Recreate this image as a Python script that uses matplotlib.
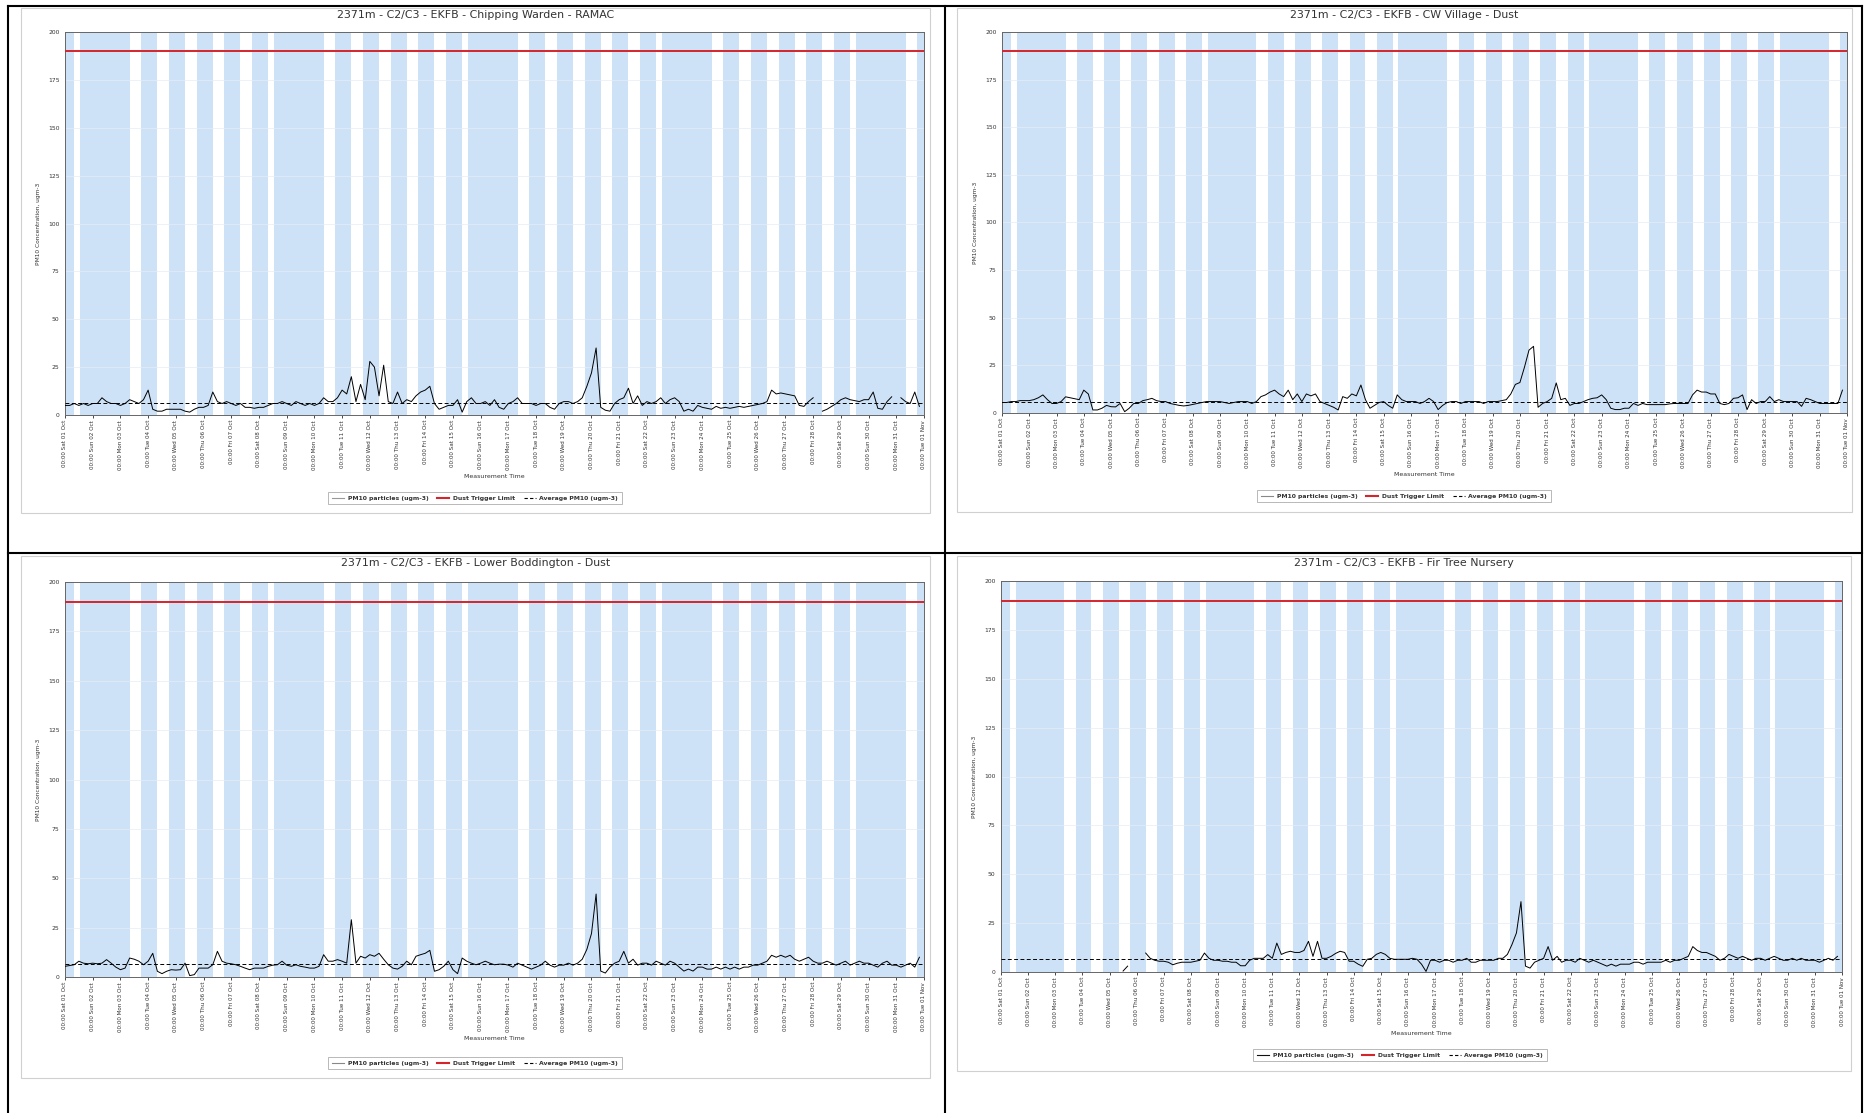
import numpy as np
import pandas as pd
import matplotlib
matplotlib.use('Agg')
import matplotlib.pyplot as plt
from matplotlib.lines import Line2D
from matplotlib.patches import Rectangle

W, H = 1866, 1113  # output size in pixels (dpi 100)

# --- data ---------------------------------------------------------------
START = '2016-10-01'
N_DAYS = 31
STEPS_PER_DAY = 6          # values read every 4 hours
WORK_START, WORK_END, SAT_END = 8, 18, 13

TITLES = ['2371m - C2/C3 - EKFB - Chipping Warden - RAMAC',
          '2371m - C2/C3 - EKFB - CW Village - Dust',
          '2371m - C2/C3 - EKFB - Lower Boddington - Dust',
          '2371m - C2/C3 - EKFB - Fir Tree Nursery']
TRIGGER_LIMIT = 190
AVERAGES = [6.3, 6.0, 6.6, 6.5]
nan = np.nan

PM10_CHIPPING_WARDEN = [
    5, 5, 6, 5, 6, 5,
    6, 6, 9, 7, 6, 6,
    5, 6, 8, 7, 6, 8,
    13, 3, 2, 2, 3, 3,
    3, 3, 2, 1.5, 3, 4,
    4, 5, 12, 7, 6, 7,
    6, 5, 6, 4, 4, 3.5,
    4, 4, 5, 6, 6, 7,
    6, 5, 7, 6, 5, 6,
    5, 6, 9, 7, 7, 9,
    13, 11, 20, 7, 16, 8,
    28, 25, 10, 26, 7, 6,
    12, 6, 8, 7, 10, 12,
    13, 15, 6, 3, 4, 5,
    5, 8, 1.5, 7, 9, 6,
    6, 7, 5, 8, 4, 3,
    6, 7, 9, 6, 6, 6,
    5, 6, 6, 4, 3, 6,
    7, 7, 6, 7, 9, 15,
    22, 35, 4, 2.5, 2, 6,
    8, 9, 14, 6, 10, 5,
    7, 6, 7, 9, 6, 8,
    9, 7, 2, 3, 2, 5,
    4, 3.5, 3, 4.5, 3.5, 4,
    3.5, 4, 4.5, 4, 4.5, 5,
    5.5, 6, 7, 13, 11, 11.5,
    11, 10.5, 10, 5, 4.5, 7,
    9, nan, 2, 3, 4.5, 6,
    8, 9, 8, 7.5, 7, 8,
    8, 12, 3.5, 3, 7, 9.5,
    nan, 9, 7, 6, 12, 4.5,
]

PM10_CW_VILLAGE = [
    5.5, 5.5, 6, 6, 6.5, 6.5,
    6.5, 7, 8, 9.5, 7, 5,
    5, 6, 8.5, 8, 7.5, 7,
    12, 10, 1.6, 1.6, 2.5, 4,
    3.3, 3.2, 5, 0.7, 2.5, 5,
    5, 6.5, 7, 7.7, 6.5, 6,
    6, 5, 4.5, 4, 3.7, 4,
    4.5, 5, 5.5, 6, 6, 6,
    6, 5.5, 5, 5.5, 6, 6,
    6, 5, 6, 8.6, 9.5, 11,
    12, 10, 8.6, 12, 7, 10,
    6, 10, 9, 10, 6, 5,
    4, 3, 1.6, 8.6, 7.7, 10,
    9, 14.7, 7, 2.5, 4, 5.5,
    6, 4, 2.5, 9.5, 7, 6,
    6, 6, 5, 6, 7.7, 6,
    1.8, 4, 5.5, 6, 6, 5,
    6, 6, 6, 6, 5, 6,
    6, 6, 6.5, 7, 10, 15,
    16, 24, 33, 35, 3, 5,
    6, 7.7, 15.8, 7, 7.7, 4,
    5, 5, 6, 7, 7.7, 8,
    9.5, 7, 2.5, 1.8, 1.8, 2.5,
    2.5, 5, 4, 5, 4.4, 4.4,
    4.4, 4.4, 4.4, 4.8, 5, 5,
    5, 5, 9.5, 12, 11, 11,
    10, 10, 5, 4.4, 5, 7.7,
    8, 9.5, 1.8, 7, 5, 6,
    6, 8.6, 6, 7, 6, 6,
    6, 6, 3.5, 7.7, 7, 6,
    5, 5, 5, 5, 5, 12,
]

PM10_LOWER_BODDINGTON = [
    5.4, 5.8, 6.2, 8, 7, 6.7,
    7, 6.7, 7, 8.8, 7, 5,
    3.7, 4.5, 9.6, 9, 8, 6.2,
    8, 12, 2.9, 1.7, 2.9, 3.7,
    3.5, 3.7, 7, 0.7, 1.2, 4.5,
    4.5, 4.5, 6.2, 13, 8, 7,
    6.7, 6.2, 5.4, 4.5, 3.7, 4.5,
    4.5, 4.5, 5.4, 6, 6.2, 8,
    6, 5.4, 6.2, 5.4, 5, 4.5,
    4.5, 5.4, 11.3, 8, 8, 8.8,
    8, 7, 29, 7, 10.5, 9.6,
    11.3, 10.5, 12, 9, 6.2, 4.5,
    4, 5.4, 8, 6.2, 10.5, 11.3,
    12, 13.5, 2.9, 3.7, 5.4, 8,
    3.7, 1.7, 9.6, 8, 7, 6.2,
    7, 8, 7, 6.2, 6.5, 6.5,
    6, 5, 7, 6, 5, 4,
    5, 6, 8, 6, 5, 6,
    6, 7, 6, 7, 9, 14,
    22, 42, 3, 2, 5, 7,
    8, 13, 7, 9, 6, 7,
    7, 6, 8, 7, 6, 8,
    7, 5, 3, 4, 3, 5,
    5, 4, 4, 5, 4, 5,
    4, 5, 4, 5, 5, 6,
    6, 7, 8, 11, 10, 11,
    10, 11, 9, 8, 9, 10,
    8, 7, 7, 8, 7, 6,
    7, 8, 6, 7, 8, 7,
    7, 6, 5, 7, 8, 6,
    6, 5, 6, 7, 5, 10,
]

PM10_FIR_TREE_NURSERY = [
    nan, nan, nan, nan, nan, nan,
    nan, nan, nan, nan, nan, nan,
    nan, nan, nan, nan, nan, nan,
    nan, nan, nan, nan, nan, nan,
    nan, nan, nan, 0.5, 3, nan,
    nan, nan, 9.7, 7, 6, 5.5,
    5.5, 5, 3.7, 4.5, 5, 5,
    5, 5.5, 6, 9.7, 7, 6,
    6, 5.5, 5.5, 5, 5, 3.2,
    3.2, 6, 7, 7, 7, 8.9,
    7, 14.8, 9, 10, 10.6, 10,
    10, 11, 15.7, 8, 15.7, 7,
    7, 8, 9.5, 10.6, 10, 5.5,
    5.5, 4, 2.9, 6.5, 7, 9,
    10, 9, 7, 6.5, 6.5, 6.5,
    6.5, 7, 6.5, 4, 0.3, 6,
    6, 5, 6, 6, 5, 6,
    6, 7, 5, 5, 6, 6,
    6, 6, 7, 7, 9, 14,
    20, 36, 3, 2, 5, 6,
    7, 13, 6, 8, 5, 6,
    6, 5, 7, 6, 5, 6,
    5, 4, 3, 4, 3, 4,
    4, 4, 5, 5, 4, 5,
    5, 5, 5, 6, 5, 6,
    6, 7, 8, 13, 11, 10,
    10, 9, 8, 6, 7, 9,
    8, 7, 8, 7, 6, 7,
    7, 6, 7, 8, 7, 6,
    6, 7, 6, 7, 6, 6,
    6, 5, 6, 7, 6, 8,
]

SERIES = [PM10_CHIPPING_WARDEN, PM10_CW_VILLAGE,
          PM10_LOWER_BODDINGTON, PM10_FIR_TREE_NURSERY]
LEGEND_LABELS = ['PM10 particles (ugm-3)', 'Dust Trigger Limit',
                 'Average PM10 (ugm-3)']
Y_LABEL = 'PM10 Concentration, ugm-3'
X_LABEL = 'Measurement Time'

# --- layout (pixel boxes: left, top, right, bottom) ---------------------
PLOT_BOXES = [(65, 32, 924, 415), (1002, 32, 1847, 413),
              (65, 582, 924, 977), (1001, 581, 1842, 972)]
FRAME_BOXES = [(21, 8, 930, 513), (957, 8, 1852, 512),
               (21, 556, 930, 1078), (957, 556, 1851, 1071)]
LEGEND_CENTRES = [(475, 498), (1404, 496), (475, 1063), (1400, 1055)]
PM_LEGEND_COLORS = ['#999999', '#888888', '#888888', '#111111']

BLUE = '#cde1f7'
RED = '#d4252c'


def fx(px):
    return px / W


def fy(py):
    return 1 - py / H


def off_hours_runs(days):
    """ Return (start, end) in day units of non-working hours """
    mask = np.zeros(len(days) * 24, dtype=bool)
    for i, d in enumerate(days):
        hrs = np.arange(24)
        if d.weekday() == 6:
            off = np.ones(24, dtype=bool)
        elif d.weekday() == 5:
            off = (hrs < WORK_START) | (hrs >= SAT_END)
        else:
            off = (hrs < WORK_START) | (hrs >= WORK_END)
        mask[i * 24:(i + 1) * 24] = off
    runs = []
    start = None
    for h, m in enumerate(mask):
        if m and start is None:
            start = h
        elif not m and start is not None:
            runs.append((start / 24, h / 24))
            start = None
    if start is not None:
        runs.append((start / 24, len(mask) / 24))
    return runs


days = pd.date_range(START, periods=N_DAYS + 1, freq='D')
tick_labels = [d.strftime('%H:%M %a %d %b') for d in days]
runs = off_hours_runs(days[:-1])
t = np.arange(N_DAYS * STEPS_PER_DAY) / STEPS_PER_DAY

fig = plt.figure(figsize=(W / 100, H / 100), dpi=100)
fig.patch.set_facecolor('white')

for k in range(4):
    l, tp, r, b = PLOT_BOXES[k]
    ax = fig.add_axes([fx(l), fy(b), (r - l) / W, (b - tp) / H])

    # chart image frame
    fl, ft, fr, fb = FRAME_BOXES[k]
    fig.add_artist(Rectangle((fx(fl), fy(fb)), (fr - fl) / W, (fb - ft) / H,
                             transform=fig.transFigure, fill=False,
                             edgecolor='#d0d0d0', lw=0.8, zorder=0))

    for s, e in runs:
        ax.axvspan(s, e, color=BLUE, lw=0, zorder=0)
    for yv in range(25, 200, 25):
        ax.axhline(yv, color='#e6edf5', lw=0.5, zorder=0.5)

    ax.axhline(TRIGGER_LIMIT, color=RED, lw=1.4, zorder=3)
    ax.axhline(AVERAGES[k], color='black', lw=0.7, ls=(0, (4, 2.5)), zorder=3)
    ax.plot(t, np.array(SERIES[k], dtype=float), color='black', lw=0.7,
            zorder=4)

    ax.set_xlim(0, N_DAYS)
    ax.set_ylim(0, 200)
    ax.set_yticks(range(0, 201, 25))
    ax.set_xticks(np.arange(N_DAYS + 1))
    ax.set_xticklabels(tick_labels, rotation=90, fontsize=4.1, color='#333333')
    ax.tick_params(axis='y', labelsize=4.3, length=0, pad=4,
                   labelcolor='#333333')
    ax.tick_params(axis='x', length=2, width=0.5, pad=1.5)
    for sp in ax.spines.values():
        sp.set_color('#666666')
        sp.set_linewidth(0.7)

    ax.set_ylabel(Y_LABEL, fontsize=4.2, color='#333333', labelpad=5)
    ax.set_xlabel(X_LABEL, fontsize=4.5, color='#333333', labelpad=3)

    cx = (fl + fr) / 2
    fig.text(fx(cx), fy(ft + 7), TITLES[k], ha='center', va='center',
             fontsize=7.9, color='#333333')

    handles = [Line2D([], [], color=PM_LEGEND_COLORS[k], lw=0.8),
               Line2D([], [], color=RED, lw=1.5),
               Line2D([], [], color='black', lw=0.8, ls=(0, (3, 2)))]
    lx, ly = LEGEND_CENTRES[k]
    leg = ax.legend(handles, LEGEND_LABELS, loc='center', ncol=3,
                    bbox_to_anchor=(fx(lx), fy(ly)),
                    bbox_transform=fig.transFigure,
                    prop={'size': 4.4, 'weight': 'bold'},
                    frameon=True, fancybox=False, edgecolor='#999999',
                    handlelength=2.0, columnspacing=1.4, borderpad=0.6,
                    handletextpad=0.6)
    leg.get_frame().set_linewidth(0.6)
    for txt in leg.get_texts():
        txt.set_color('#333333')

# table lines around the four charts
table = [((8, 6), (1862, 6)), ((8, 6), (8, 1113)), ((1862, 6), (1862, 1113)),
         ((945, 6), (945, 1113)), ((8, 553), (1862, 553))]
for (x0, y0), (x1, y1) in table:
    fig.add_artist(Line2D([fx(x0), fx(x1)], [fy(y0), fy(y1)],
                          transform=fig.transFigure, color='black', lw=1.5))

fig.savefig('out.png', dpi=100)
